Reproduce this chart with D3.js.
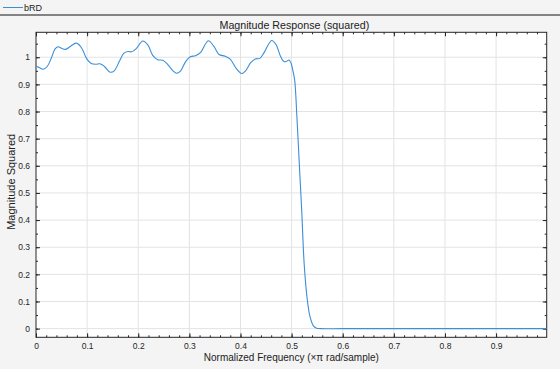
<!DOCTYPE html>
<html><head><meta charset="utf-8">
<script src="https://cdn.jsdelivr.net/npm/d3@7"></script>
<style>
html,body{margin:0;padding:0;background:#f4f4f4;}
svg{display:block;font-family:"Liberation Sans",Arial,Helvetica,sans-serif;}
</style></head>
<body>
<svg id="chart" width="560" height="369"></svg>
<script>
// ---- data ----
const seriesName = "bRD";
const freq = [0,0.008,0.014,0.022,0.030,0.037,0.043,0.050,0.058,0.067,0.079,0.089,0.099,0.108,0.117,0.125,0.134,0.145,0.153,0.163,0.172,0.180,0.187,0.196,0.209,0.219,0.228,0.238,0.248,0.257,0.268,0.275,0.283,0.293,0.302,0.312,0.322,0.337,0.348,0.358,0.370,0.380,0.392,0.4025,0.410,0.420,0.429,0.438,0.447,0.461,0.470,0.478,0.485,0.490,0.495,0.499,0.502,0.506,0.510,0.515,0.520,0.5245,0.530,0.536,0.5427,0.549,0.556,0.600,0.700,0.800,0.900,0.999];
const mag2 = [0.968,0.960,0.956,0.966,0.997,1.030,1.039,1.033,1.029,1.040,1.052,1.035,0.995,0.977,0.974,0.976,0.966,0.945,0.950,0.985,1.015,1.021,1.020,1.032,1.060,1.045,1.008,0.991,0.989,0.975,0.950,0.941,0.950,0.985,1.002,1.006,1.018,1.061,1.040,1.010,1.004,0.993,0.958,0.940,0.950,0.980,0.994,0.996,1.020,1.062,1.045,1.005,0.984,0.985,0.990,0.978,0.955,0.916,0.794,0.609,0.425,0.241,0.118,0.044,0.010,0.0015,0,0,0,0,0,0];
const xTicks = [0,0.1,0.2,0.3,0.4,0.5,0.6,0.7,0.8,0.9];
const yTicks = [0,0.1,0.2,0.3,0.4,0.5,0.6,0.7,0.8,0.9,1];
const xDomain = [0,0.999];
const yDomain = [-0.032,1.092];

// ---- layout ----
const svg = d3.select("#chart");
const L = 36, R = 546.7, T = 32.3, B = 337.3;
const x = d3.scaleLinear().domain(xDomain).range([L,R]);
const y = d3.scaleLinear().domain(yDomain).range([B,T]);
const axisCol = "#262626";

// legend strip
svg.append("rect").attr("x",0).attr("y",0).attr("width",560).attr("height",15).attr("fill","#f4f4f4");
svg.append("line").attr("x1",0).attr("x2",560).attr("y1",15).attr("y2",15).attr("stroke","#5e5e5e").attr("stroke-width",1.6);
svg.append("line").attr("x1",3).attr("x2",23).attr("y1",7.5).attr("y2",7.5).attr("stroke","#3a8fd9").attr("stroke-width",1);
svg.append("text").attr("x",24).attr("y",10.5).attr("font-size",9).attr("fill","#222").text(seriesName);

// plot area
svg.append("rect").attr("x",L).attr("y",T).attr("width",R-L).attr("height",B-T).attr("fill","#fff");

// grid
svg.append("g").selectAll("line").data(xTicks.filter(d=>d>0)).join("line")
  .attr("x1",d=>x(d)).attr("x2",d=>x(d)).attr("y1",T).attr("y2",B)
  .attr("stroke","#e3e3e3").attr("stroke-width",1);
svg.append("g").selectAll("line").data(yTicks).join("line")
  .attr("x1",L).attr("x2",R).attr("y1",d=>y(d)).attr("y2",d=>y(d))
  .attr("stroke","#e3e3e3").attr("stroke-width",1);

// axes with inward ticks
const xMinor = d3.range(0,1.0,0.02).filter(v=>v<=xDomain[1]);
const yMinor = d3.range(0,1.09,0.05);
function tickAxis(gen, tr, major, minor){
  const g1 = svg.append("g").attr("transform",tr).call(gen(major).tickSize(4));
  const g2 = svg.append("g").attr("transform",tr).call(gen(minor).tickSize(2));
  [g1,g2].forEach(g=>{g.select(".domain").remove(); g.selectAll("line").attr("stroke",axisCol);});
  g2.selectAll("text").remove();
  return g1;
}
const bx = tickAxis(v=>d3.axisTop(x).tickValues(v).tickFormat(d3.format("~g")), `translate(0,${B})`, xTicks, xMinor);
bx.selectAll("text").remove();
const bx2 = svg.append("g").attr("transform",`translate(0,${B})`).call(d3.axisBottom(x).tickValues(xTicks).tickSize(0).tickPadding(6).tickFormat(d3.format("~g")));
bx2.select(".domain").remove();
bx2.selectAll("text").attr("font-size",8.5).attr("fill",axisCol).attr("font-family","Liberation Sans, Arial, sans-serif");

const tx = tickAxis(v=>d3.axisBottom(x).tickValues(v), `translate(0,${T})`, xTicks, xMinor);
tx.selectAll("text").remove();

const ly = tickAxis(v=>d3.axisRight(y).tickValues(v), `translate(${L},0)`, yTicks, yMinor);
ly.selectAll("text").remove();
const ly2 = svg.append("g").attr("transform",`translate(${L},0)`).call(d3.axisLeft(y).tickValues(yTicks).tickSize(0).tickPadding(6).tickFormat(d3.format("~g")));
ly2.select(".domain").remove();
ly2.selectAll("text").attr("font-size",8.5).attr("fill",axisCol).attr("font-family","Liberation Sans, Arial, sans-serif");

const ry = tickAxis(v=>d3.axisLeft(y).tickValues(v), `translate(${R},0)`, yTicks, yMinor);
ry.selectAll("text").remove();

// box
svg.append("rect").attr("x",L).attr("y",T).attr("width",R-L).attr("height",B-T)
  .attr("fill","none").attr("stroke",axisCol).attr("stroke-width",1);

// curve
const pts = freq.map((f,i)=>[f,mag2[i]]);
svg.append("path").datum(pts)
  .attr("d",d3.line().x(d=>x(d[0])).y(d=>y(d[1])).curve(d3.curveCatmullRom.alpha(0.5)))
  .attr("fill","none").attr("stroke","#3a8fd9").attr("stroke-width",1.1);

// titles
svg.append("text").attr("x",(L+R)/2+3).attr("y",29).attr("text-anchor","middle")
  .attr("font-size",10.7).attr("fill","#222").text("Magnitude Response (squared)");
svg.append("text").attr("x",(L+R)/2).attr("y",361).attr("text-anchor","middle")
  .attr("font-size",10).attr("fill","#222").text("Normalized Frequency (×π rad/sample)");
svg.append("text").attr("transform",`translate(15,${(T+B)/2-3}) rotate(-90)`).attr("text-anchor","middle")
  .attr("font-size",11).attr("fill","#222").text("Magnitude Squared");
</script>
</body></html>
